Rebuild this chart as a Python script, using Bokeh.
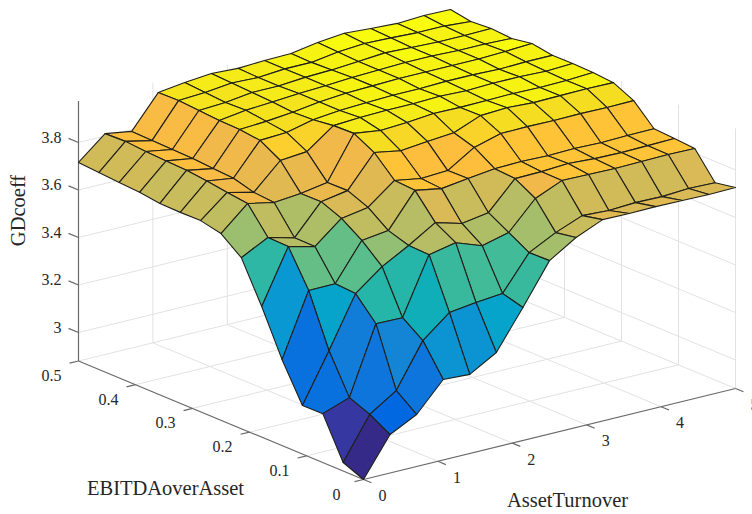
from bokeh.embed import file_html
from bokeh.resources import INLINE
from bokeh.plotting import figure
from bokeh.models import Range1d, ColumnDataSource
from bokeh.core.properties import value
import math

x_ticks = [0, 1, 2, 3, 4, 5]
y_ticks = [0, 0.1, 0.2, 0.3, 0.4, 0.5]
z_ticks = [3, 3.2, 3.4, 3.6, 3.8]
z_labels = ["3", "3.2", "3.4", "3.6", "3.8"]
x_title = "AssetTurnover"
y_title = "EBITDAoverAsset"
z_title = "GDcoeff"
X_MAX, Y_MAX, Z_MIN, Z_MAX = 5.0, 0.5, 2.88, 3.975
N = 14

# GDcoeff, one list per EBITDAoverAsset step; each runs along AssetTurnover
gd_00 = [2.880, 3.042, 3.099, 3.219, 3.213, 3.278, 3.440, 3.610, 3.680, 3.728, 3.726, 3.728, 3.726, 3.724, 3.726]
gd_01 = [2.916, 3.091, 3.164, 3.347, 3.438, 3.453, 3.463, 3.608, 3.665, 3.709, 3.703, 3.709, 3.707, 3.714, 3.711]
gd_02 = [3.086, 3.126, 3.410, 3.408, 3.646, 3.669, 3.629, 3.657, 3.773, 3.821, 3.819, 3.817, 3.819, 3.821, 3.819]
gd_03 = [3.085, 3.288, 3.501, 3.587, 3.649, 3.718, 3.687, 3.705, 3.821, 3.823, 3.830, 3.823, 3.821, 3.823, 3.826]
gd_04 = [3.242, 3.506, 3.507, 3.662, 3.676, 3.818, 3.798, 3.813, 3.827, 3.830, 3.827, 3.830, 3.827, 3.830, 3.831]
gd_05 = [3.430, 3.655, 3.628, 3.719, 3.738, 3.824, 3.805, 3.811, 3.881, 3.912, 3.914, 3.912, 3.914, 3.912, 3.914]
gd_06 = [3.600, 3.658, 3.629, 3.754, 3.773, 3.906, 3.886, 3.898, 3.907, 3.952, 3.958, 3.952, 3.954, 3.956, 3.954]
gd_07 = [3.666, 3.765, 3.742, 3.753, 3.772, 3.951, 3.936, 3.942, 3.953, 3.951, 3.953, 3.955, 3.953, 3.955, 3.961]
gd_08 = [3.685, 3.776, 3.749, 3.856, 3.866, 3.948, 3.955, 3.958, 3.958, 3.962, 3.958, 3.962, 3.962, 3.958, 3.963]
gd_09 = [3.684, 3.789, 3.773, 3.905, 3.911, 3.937, 3.949, 3.954, 3.958, 3.958, 3.962, 3.962, 3.958, 3.962, 3.962]
gd_10 = [3.686, 3.798, 3.778, 3.915, 3.922, 3.933, 3.949, 3.958, 3.962, 3.966, 3.966, 3.966, 3.966, 3.970, 3.976]
gd_11 = [3.697, 3.802, 3.785, 3.917, 3.933, 3.941, 3.949, 3.954, 3.962, 3.966, 3.970, 3.970, 3.966, 3.966, 3.962]
gd_12 = [3.703, 3.806, 3.787, 3.924, 3.930, 3.945, 3.945, 3.954, 3.958, 3.966, 3.975, 3.970, 3.966, 3.966, 3.968]
gd_13 = [3.709, 3.813, 3.789, 3.930, 3.937, 3.949, 3.945, 3.954, 3.954, 3.970, 3.979, 3.975, 3.970, 3.970, 3.962]
gd_14 = [3.716, 3.810, 3.792, 3.928, 3.943, 3.954, 3.948, 3.954, 3.956, 3.975, 3.986, 3.979, 3.973, 3.979, 3.977]
gd = [gd_00, gd_01, gd_02, gd_03, gd_04, gd_05, gd_06, gd_07, gd_08, gd_09, gd_10, gd_11, gd_12, gd_13, gd_14]

parula = [
 (0.2081,0.1663,0.5292),(0.2116,0.1898,0.5777),(0.2123,0.2138,0.6270),(0.2081,0.2386,0.6771),
 (0.1959,0.2645,0.7279),(0.1707,0.2919,0.7792),(0.1253,0.3242,0.8303),(0.0591,0.3598,0.8683),
 (0.0117,0.3875,0.8820),(0.0060,0.4086,0.8828),(0.0165,0.4266,0.8786),(0.0329,0.4430,0.8720),
 (0.0498,0.4586,0.8641),(0.0629,0.4737,0.8554),(0.0723,0.4887,0.8467),(0.0779,0.5040,0.8384),
 (0.0793,0.5200,0.8312),(0.0749,0.5375,0.8263),(0.0641,0.5570,0.8240),(0.0488,0.5772,0.8228),
 (0.0343,0.5966,0.8199),(0.0265,0.6137,0.8135),(0.0239,0.6287,0.8038),(0.0231,0.6418,0.7913),
 (0.0228,0.6535,0.7768),(0.0267,0.6642,0.7607),(0.0384,0.6743,0.7436),(0.0590,0.6838,0.7254),
 (0.0843,0.6928,0.7062),(0.1133,0.7015,0.6859),(0.1453,0.7098,0.6646),(0.1801,0.7177,0.6424),
 (0.2178,0.7250,0.6193),(0.2586,0.7317,0.5954),(0.3022,0.7376,0.5712),(0.3482,0.7424,0.5473),
 (0.3953,0.7459,0.5244),(0.4420,0.7481,0.5033),(0.4871,0.7491,0.4840),(0.5300,0.7491,0.4661),
 (0.5709,0.7485,0.4494),(0.6099,0.7473,0.4337),(0.6473,0.7456,0.4188),(0.6834,0.7435,0.4044),
 (0.7184,0.7411,0.3905),(0.7525,0.7384,0.3768),(0.7858,0.7356,0.3633),(0.8185,0.7327,0.3498),
 (0.8507,0.7299,0.3360),(0.8824,0.7274,0.3217),(0.9139,0.7258,0.3063),(0.9450,0.7261,0.2886),
 (0.9739,0.7314,0.2666),(0.9938,0.7455,0.2403),(0.9990,0.7653,0.2164),(0.9955,0.7861,0.1967),
 (0.9880,0.8066,0.1794),(0.9789,0.8271,0.1633),(0.9697,0.8481,0.1475),(0.9626,0.8705,0.1309),
 (0.9589,0.8949,0.1132),(0.9598,0.9218,0.0948),(0.9661,0.9514,0.0755),(0.9763,0.9831,0.0538)]


def colour(z):
    t = (z - Z_MIN) / (max(map(max, gd)) - Z_MIN)
    r, g, b = parula[min(63, int(t * 64))]
    return "#%02x%02x%02x" % (round(r * 255), round(g * 255), round(b * 255))


# orthographic view of the 3-D box, in plot units
def px(x, y, z):
    return 363 + 74.4 * x - 570 * y


def py(x, y, z):
    return 479 - 18.2 * x - 237 * y - 237.5 * (z - Z_MIN)


p = figure(width=752, height=514, x_range=Range1d(0, 752), y_range=Range1d(514, 0),
           x_axis_type=None, y_axis_type=None, toolbar_location=None, output_backend="svg",
           min_border=0, outline_line_color=None, background_fill_color="white",
           border_fill_color="white")
p.grid.visible = False


def seg(a, b, colour_, width, src=None):
    p.line([px(*a), px(*b)], [py(*a), py(*b)], line_color=colour_, line_width=width)


GRID = "#e2e2e2"
AXIS = "#6a6a6a"
# floor grid
for x in x_ticks[1:]:
    seg((x, 0, Z_MIN), (x, Y_MAX, Z_MIN), GRID, 1)
for y in y_ticks[1:-1] + [Y_MAX]:
    seg((0, y, Z_MIN), (X_MAX, y, Z_MIN), GRID, 1)
# back walls
for x in x_ticks[1:]:
    seg((x, Y_MAX, Z_MIN), (x, Y_MAX, Z_MAX), GRID, 1)
for y in y_ticks[:-1]:
    seg((X_MAX, y, Z_MIN), (X_MAX, y, Z_MAX), GRID, 1)
for z in z_ticks:
    seg((0, Y_MAX, z), (X_MAX, Y_MAX, z), GRID, 1)
    seg((X_MAX, 0, z), (X_MAX, Y_MAX, z), GRID, 1)

# axes and ticks
seg((0, 0, Z_MIN), (X_MAX, 0, Z_MIN), AXIS, 1.2)
seg((0, 0, Z_MIN), (0, Y_MAX, Z_MIN), AXIS, 1.2)
seg((0, Y_MAX, Z_MIN), (0, Y_MAX, Z_MAX), AXIS, 1.2)
for x in x_ticks:
    seg((x, 0, Z_MIN), (x, -0.014, Z_MIN), AXIS, 1.2)
for y in y_ticks:
    seg((0, y, Z_MIN), (-0.12, y, Z_MIN), AXIS, 1.2)
for z in z_ticks:
    seg((0, Y_MAX, z), (0, Y_MAX + 0.0175, z), AXIS, 1.2)

# surface, painted from the far corner towards the viewer
cells = sorted(((i, j) for i in range(N) for j in range(N)), key=lambda c: -(c[0] + c[1]))
xs, ys, fills = [], [], []
for i, j in cells:
    corners = [(i, j), (i + 1, j), (i + 1, j + 1), (i, j + 1)]
    pts = [(X_MAX * a / N, Y_MAX * b / N, gd[b][a]) for a, b in corners]
    xs.append([px(*q) for q in pts])
    ys.append([py(*q) for q in pts])
    fills.append(colour(gd[j][i]))
p.patches("xs", "ys", source=ColumnDataSource(dict(xs=xs, ys=ys, fill=fills)),
          fill_color="fill", line_color="#20201a", line_width=1.1, line_join="round")

# tick labels
FONT = value("Liberation Serif")
TXT = "#262626"
p.text([px(x, 0, Z_MIN) for x in x_ticks], [py(x, 0, Z_MIN) for x in x_ticks],
       text=[str(x) for x in x_ticks], x_offset=19, y_offset=16,
       text_align="center", text_baseline="middle", text_font=FONT, text_font_size="16px", text_color=TXT)
p.text([px(0, y, Z_MIN) for y in y_ticks], [py(0, y, Z_MIN) for y in y_ticks],
       text=[str(y) for y in y_ticks], x_offset=-27, y_offset=14.5,
       text_align="center", text_baseline="middle", text_font=FONT, text_font_size="16px", text_color=TXT)
p.text([px(0, Y_MAX, z) - 17 for z in z_ticks], [py(0, Y_MAX, z) for z in z_ticks],
       text=z_labels, y_offset=-5.5,
       text_align="right", text_baseline="middle", text_font=FONT, text_font_size="16px", text_color=TXT)

# axis titles
p.text([165], [487], text=[y_title], text_align="center", text_baseline="middle",
       text_font=FONT, text_font_size="20.5px", text_color=TXT)
p.text([567], [499], text=[x_title], text_align="center", text_baseline="middle",
       text_font=FONT, text_font_size="20.5px", text_color=TXT)
p.text([17], [210], text=[z_title], angle=math.pi / 2, text_align="center", text_baseline="middle",
       text_font=FONT, text_font_size="20.5px", text_color=TXT)

open("out.html", "w").write(file_html(p, INLINE))
